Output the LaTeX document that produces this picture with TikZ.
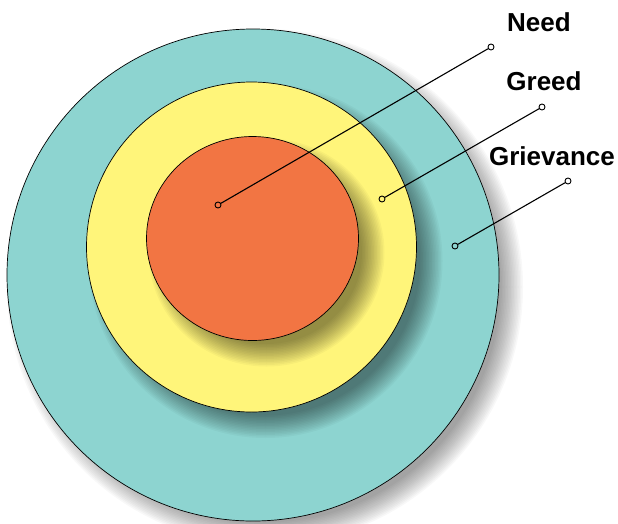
\documentclass[tikz,border=0pt]{standalone}
\usepackage{fontspec}
\setmainfont{Liberation Sans}
\definecolor{ringteal}{RGB}{141,212,208}
\definecolor{ringyellow}{RGB}{255,245,122}
\definecolor{ringorange}{RGB}{242,117,67}

\begin{document}
\begin{tikzpicture}[x=1pt,y=-1pt,line width=0.8pt,
  ring/.style={draw=black,line width=0.7pt},
  pinend/.style={circle,draw,fill=none,inner sep=0pt,minimum size=6pt,line width=0.9pt},
  lab/.style={font=\bfseries\fontsize{26}{26}\selectfont,inner sep=0pt}]
\useasboundingbox (0,0) rectangle (618,523);
% Grievance ring with its shadow
\foreach \k in {0,...,15}
  \fill[black,opacity=0.026,shift={(12,12)}] (253,275) circle[radius={(246+12-\k*1.5)*1pt}];
\draw[ring,fill=ringteal] (253,275) circle[radius=246pt];
% Greed ring
\foreach \k in {0,...,15}
  \fill[black,opacity=0.032,shift={(14,14)}] (251.5,247) circle[radius={(165+12-\k*1.5)*1pt}];
\draw[ring,fill=ringyellow] (251.5,247) circle[radius=165pt];
% Need core
\foreach \k in {0,...,15}
  \fill[black,opacity=0.032,shift={(14,14)}] (252.5,238.5)
    ellipse[x radius={(106+12-\k*1.5)*1pt},y radius={(102+12-\k*1.5)*1pt}];
\draw[ring,fill=ringorange] (252.5,238.5) ellipse[x radius=106pt,y radius=102pt];
% labels
\node[lab] (need) at (539,22) {Need};
\node[lab] (greed) at (544,81) {Greed};
\node[lab] (grievance) at (552,156) {Grievance};
% pointer ends
\node[pinend] (needdot) at (218,205) {};
\node[pinend] (needpin) at (491,47) {};
\node[pinend] (greeddot) at (382,199) {};
\node[pinend] (greedpin) at (542,107) {};
\node[pinend] (grievdot) at (455,246) {};
\node[pinend] (grievpin) at (568,181) {};
% pointers
\draw[line width=1.1pt] (needdot) -- (needpin);
\draw[line width=1.1pt] (greeddot) -- (greedpin);
\draw[line width=1.1pt] (grievdot) -- (grievpin);
\end{tikzpicture}
\end{document}
